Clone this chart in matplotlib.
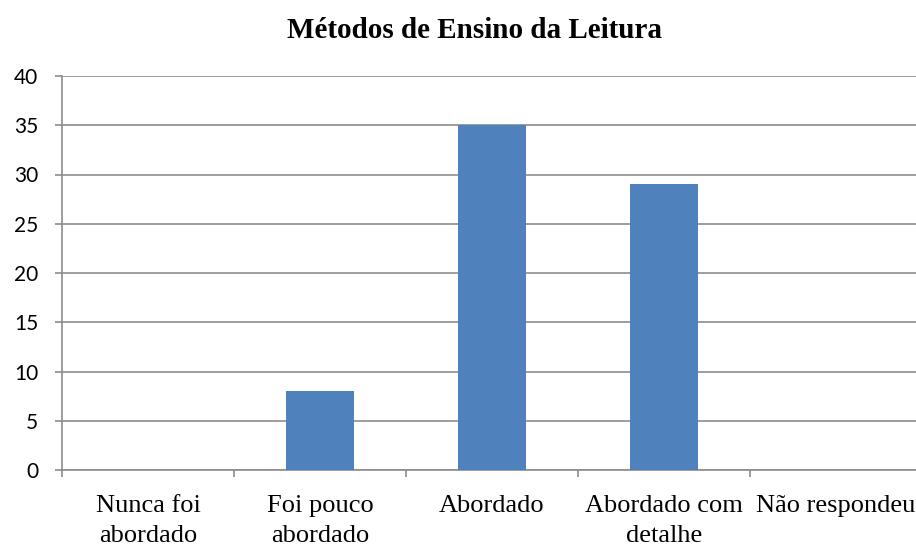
import matplotlib
matplotlib.use("Agg")
import matplotlib.pyplot as plt
import numpy as np

title = "Métodos de Ensino da Leitura"
categories = ["Nunca foi\nabordado", "Foi pouco\nabordado", "Abordado", "Abordado com\ndetalhe", "Não respondeu"]
values = [0, 8, 35, 29, 0]
yticks = [0, 5, 10, 15, 20, 25, 30, 35, 40]

W, H = 916, 544
fig = plt.figure(figsize=(W/100, H/100), dpi=100)
left, right, top, bottom = 62, 62 + 5*172, 76, 470
ax = fig.add_axes([left/W, (H-bottom)/H, (right-left)/W, (bottom-top)/H])

grid_c = "#8c8c8c"
x = np.arange(len(categories))
ax.bar(x, values, width=0.4, color="#4F81BD", zorder=3)
ax.set_xlim(-0.5, len(categories)-0.5)
ax.set_ylim(0, 40)
ax.set_yticks(yticks)
ax.set_yticklabels([str(v) for v in yticks], fontfamily="Lato", fontsize=15)
ax.yaxis.grid(True, color=grid_c, linewidth=1.2, zorder=0)
ax.tick_params(axis="y", length=5, color=grid_c, width=1.2, pad=12)

ax.set_xticks(np.arange(len(categories)+1) - 0.5)
ax.set_xticklabels([])
ax.tick_params(axis="x", length=5, color=grid_c, width=1.2)
ax.set_xticks(x, minor=True)
ax.set_xticklabels(categories, minor=True, fontfamily="Liberation Serif", fontsize=19,
                   linespacing=1.45, va="top")
ax.tick_params(axis="x", which="minor", length=0, pad=18)

for s in ["top", "right"]:
    ax.spines[s].set_visible(False)
for s in ["left", "bottom"]:
    ax.spines[s].set_color(grid_c)
    ax.spines[s].set_linewidth(1.2)

fig.text(474/W, 1 - 31/H, title, ha="center", va="center", fontfamily="Liberation Serif",
         fontweight="bold", fontsize=21)

fig.savefig("out.png", dpi=100)
